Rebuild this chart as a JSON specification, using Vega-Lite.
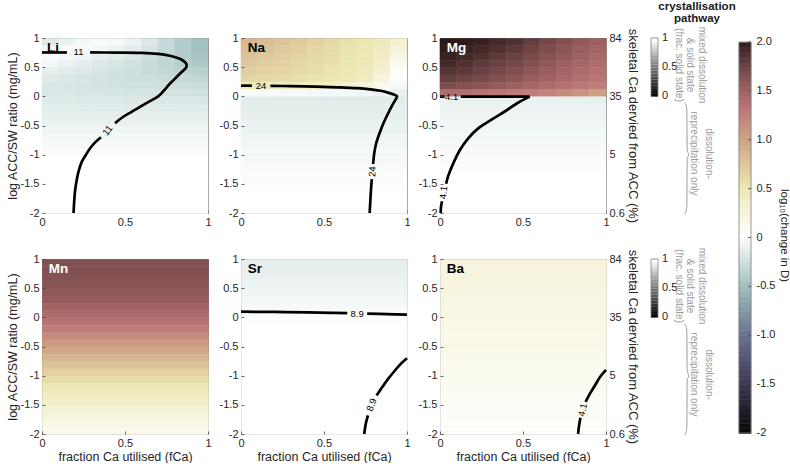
{
  "$schema": "https://vega.github.io/schema/vega-lite/v6.json",
  "background": "white",
  "padding": {"left": 5, "top": 0, "right": 0, "bottom": 0},
  "config": {
    "font": "Liberation Sans",
    "view": {"stroke": "#8a8a8a", "strokeWidth": 1},
    "axis": {"domain": false, "grid": false, "tickSize": -3, "tickColor": "#444444", "tickWidth": 0.8, "labelPadding": 6, "labelFontSize": 11, "labelColor": "#262626", "labelFlush": false, "labelOverlap": false, "labelBound": false, "titleFontSize": 12.5, "titleFontWeight": "normal", "titleColor": "#262626", "titlePadding": 2}
  },
  "resolve": {"scale": {"color": "independent", "stroke": "independent", "fill": "independent"}},
  "datasets": {
    "li": [
      {"x":0,"x2":0.1,"y":0.875,"v":-0.18},{"x":0.1,"x2":0.2,"y":0.875,"v":-0.12},{"x":0.2,"x2":0.3,"y":0.875,"v":-0.06},{"x":0.3,"x2":0.4,"y":0.875,"v":-0.03},{"x":0.4,"x2":0.5,"y":0.875,"v":-0.05},
      {"x":0.5,"x2":0.6,"y":0.875,"v":-0.1},{"x":0.6,"x2":0.7,"y":0.875,"v":-0.2},{"x":0.7,"x2":0.8,"y":0.875,"v":-0.32},{"x":0.8,"x2":0.9,"y":0.875,"v":-0.42},{"x":0.9,"x2":1,"y":0.875,"v":-0.5},
      {"x":0,"x2":0.1,"y":0.75,"v":-0.06},{"x":0.1,"x2":0.2,"y":0.75,"v":-0.03},{"x":0.2,"x2":0.3,"y":0.75,"v":-0.04},{"x":0.3,"x2":0.4,"y":0.75,"v":-0.07},{"x":0.4,"x2":0.5,"y":0.75,"v":-0.11},
      {"x":0.5,"x2":0.6,"y":0.75,"v":-0.16},{"x":0.6,"x2":0.7,"y":0.75,"v":-0.23},{"x":0.7,"x2":0.8,"y":0.75,"v":-0.32},{"x":0.8,"x2":0.9,"y":0.75,"v":-0.42},{"x":0.9,"x2":1,"y":0.75,"v":-0.5},
      {"x":0,"x2":0.1,"y":0.625,"v":-0.02},{"x":0.1,"x2":0.2,"y":0.625,"v":-0.05},{"x":0.2,"x2":0.3,"y":0.625,"v":-0.09},{"x":0.3,"x2":0.4,"y":0.625,"v":-0.13},{"x":0.4,"x2":0.5,"y":0.625,"v":-0.17},
      {"x":0.5,"x2":0.6,"y":0.625,"v":-0.21},{"x":0.6,"x2":0.7,"y":0.625,"v":-0.27},{"x":0.7,"x2":0.8,"y":0.625,"v":-0.34},{"x":0.8,"x2":0.9,"y":0.625,"v":-0.42},{"x":0.9,"x2":1,"y":0.625,"v":-0.48},
      {"x":0,"x2":0.1,"y":0.5,"v":-0.07},{"x":0.1,"x2":0.2,"y":0.5,"v":-0.11},{"x":0.2,"x2":0.3,"y":0.5,"v":-0.15},{"x":0.3,"x2":0.4,"y":0.5,"v":-0.19},{"x":0.4,"x2":0.5,"y":0.5,"v":-0.22},
      {"x":0.5,"x2":0.6,"y":0.5,"v":-0.26},{"x":0.6,"x2":0.7,"y":0.5,"v":-0.3},{"x":0.7,"x2":0.8,"y":0.5,"v":-0.35},{"x":0.8,"x2":0.9,"y":0.5,"v":-0.4},{"x":0.9,"x2":1,"y":0.5,"v":-0.45},
      {"x":0,"x2":0.1,"y":0.375,"v":-0.13},{"x":0.1,"x2":0.2,"y":0.375,"v":-0.16},{"x":0.2,"x2":0.3,"y":0.375,"v":-0.19},{"x":0.3,"x2":0.4,"y":0.375,"v":-0.22},{"x":0.4,"x2":0.5,"y":0.375,"v":-0.25},
      {"x":0.5,"x2":0.6,"y":0.375,"v":-0.27},{"x":0.6,"x2":0.7,"y":0.375,"v":-0.3},{"x":0.7,"x2":0.8,"y":0.375,"v":-0.33},{"x":0.8,"x2":0.9,"y":0.375,"v":-0.36},{"x":0.9,"x2":1,"y":0.375,"v":-0.39},
      {"x":0,"x2":0.1,"y":0.25,"v":-0.18},{"x":0.1,"x2":0.2,"y":0.25,"v":-0.2},{"x":0.2,"x2":0.3,"y":0.25,"v":-0.22},{"x":0.3,"x2":0.4,"y":0.25,"v":-0.24},{"x":0.4,"x2":0.5,"y":0.25,"v":-0.26},
      {"x":0.5,"x2":0.6,"y":0.25,"v":-0.27},{"x":0.6,"x2":0.7,"y":0.25,"v":-0.28},{"x":0.7,"x2":0.8,"y":0.25,"v":-0.3},{"x":0.8,"x2":0.9,"y":0.25,"v":-0.32},{"x":0.9,"x2":1,"y":0.25,"v":-0.34},
      {"x":0,"x2":0.1,"y":0.125,"v":-0.21},{"x":0.1,"x2":0.2,"y":0.125,"v":-0.22},{"x":0.2,"x2":0.3,"y":0.125,"v":-0.23},{"x":0.3,"x2":0.4,"y":0.125,"v":-0.24},{"x":0.4,"x2":0.5,"y":0.125,"v":-0.25},
      {"x":0.5,"x2":0.6,"y":0.125,"v":-0.25},{"x":0.6,"x2":0.7,"y":0.125,"v":-0.26},{"x":0.7,"x2":0.8,"y":0.125,"v":-0.27},{"x":0.8,"x2":0.9,"y":0.125,"v":-0.28},{"x":0.9,"x2":1,"y":0.125,"v":-0.29},
      {"x":0,"x2":0.1,"y":0,"v":-0.21},{"x":0.1,"x2":0.2,"y":0,"v":-0.21},{"x":0.2,"x2":0.3,"y":0,"v":-0.22},{"x":0.3,"x2":0.4,"y":0,"v":-0.22},{"x":0.4,"x2":0.5,"y":0,"v":-0.22},
      {"x":0.5,"x2":0.6,"y":0,"v":-0.23},{"x":0.6,"x2":0.7,"y":0,"v":-0.23},{"x":0.7,"x2":0.8,"y":0,"v":-0.24},{"x":0.8,"x2":0.9,"y":0,"v":-0.24},{"x":0.9,"x2":1,"y":0,"v":-0.25},
      {"x":0,"x2":0.1,"y":-0.125,"v":-0.18},{"x":0.1,"x2":0.2,"y":-0.125,"v":-0.18},{"x":0.2,"x2":0.3,"y":-0.125,"v":-0.19},{"x":0.3,"x2":0.4,"y":-0.125,"v":-0.19},{"x":0.4,"x2":0.5,"y":-0.125,"v":-0.19},
      {"x":0.5,"x2":0.6,"y":-0.125,"v":-0.2},{"x":0.6,"x2":0.7,"y":-0.125,"v":-0.2},{"x":0.7,"x2":0.8,"y":-0.125,"v":-0.2},{"x":0.8,"x2":0.9,"y":-0.125,"v":-0.2},{"x":0.9,"x2":1,"y":-0.125,"v":-0.21},
      {"x":0,"x2":0.1,"y":-0.25,"v":-0.15},{"x":0.1,"x2":0.2,"y":-0.25,"v":-0.15},{"x":0.2,"x2":0.3,"y":-0.25,"v":-0.16},{"x":0.3,"x2":0.4,"y":-0.25,"v":-0.16},{"x":0.4,"x2":0.5,"y":-0.25,"v":-0.16},
      {"x":0.5,"x2":0.6,"y":-0.25,"v":-0.17},{"x":0.6,"x2":0.7,"y":-0.25,"v":-0.17},{"x":0.7,"x2":0.8,"y":-0.25,"v":-0.17},{"x":0.8,"x2":0.9,"y":-0.25,"v":-0.17},{"x":0.9,"x2":1,"y":-0.25,"v":-0.17},
      {"x":0,"x2":1,"y":-0.375,"v":-0.14},{"x":0,"x2":1,"y":-0.5,"v":-0.12},{"x":0,"x2":1,"y":-0.625,"v":-0.09},{"x":0,"x2":1,"y":-0.75,"v":-0.07},
      {"x":0,"x2":1,"y":-0.875,"v":-0.05},{"x":0,"x2":1,"y":-1,"v":-0.03},{"x":0,"x2":1,"y":-1.125,"v":-0.01},{"x":0,"x2":1,"y":-1.25,"v":0.01},
      {"x":0,"x2":1,"y":-1.375,"v":0.01},{"x":0,"x2":1,"y":-1.5,"v":0},{"x":0,"x2":1,"y":-1.625,"v":0},{"x":0,"x2":1,"y":-1.75,"v":0},
      {"x":0,"x2":1,"y":-1.875,"v":0},{"x":0,"x2":1,"y":-2,"v":0}
    ],
    "na": [
      {"x":0,"x2":0.1,"y":0.875,"v":0.84},{"x":0.1,"x2":0.2,"y":0.875,"v":0.8},{"x":0.2,"x2":0.3,"y":0.875,"v":0.75},{"x":0.3,"x2":0.4,"y":0.875,"v":0.7},{"x":0.4,"x2":0.5,"y":0.875,"v":0.65},
      {"x":0.5,"x2":0.6,"y":0.875,"v":0.6},{"x":0.6,"x2":0.7,"y":0.875,"v":0.55},{"x":0.7,"x2":0.8,"y":0.875,"v":0.5},{"x":0.8,"x2":0.9,"y":0.875,"v":0.42},{"x":0.9,"x2":1,"y":0.875,"v":0.3},
      {"x":0,"x2":0.1,"y":0.75,"v":0.8},{"x":0.1,"x2":0.2,"y":0.75,"v":0.76},{"x":0.2,"x2":0.3,"y":0.75,"v":0.71},{"x":0.3,"x2":0.4,"y":0.75,"v":0.67},{"x":0.4,"x2":0.5,"y":0.75,"v":0.62},
      {"x":0.5,"x2":0.6,"y":0.75,"v":0.58},{"x":0.6,"x2":0.7,"y":0.75,"v":0.53},{"x":0.7,"x2":0.8,"y":0.75,"v":0.48},{"x":0.8,"x2":0.9,"y":0.75,"v":0.4},{"x":0.9,"x2":1,"y":0.75,"v":0.26},
      {"x":0,"x2":0.1,"y":0.625,"v":0.76},{"x":0.1,"x2":0.2,"y":0.625,"v":0.72},{"x":0.2,"x2":0.3,"y":0.625,"v":0.68},{"x":0.3,"x2":0.4,"y":0.625,"v":0.64},{"x":0.4,"x2":0.5,"y":0.625,"v":0.6},
      {"x":0.5,"x2":0.6,"y":0.625,"v":0.56},{"x":0.6,"x2":0.7,"y":0.625,"v":0.51},{"x":0.7,"x2":0.8,"y":0.625,"v":0.46},{"x":0.8,"x2":0.9,"y":0.625,"v":0.37},{"x":0.9,"x2":1,"y":0.625,"v":0.2},
      {"x":0,"x2":0.1,"y":0.5,"v":0.72},{"x":0.1,"x2":0.2,"y":0.5,"v":0.68},{"x":0.2,"x2":0.3,"y":0.5,"v":0.65},{"x":0.3,"x2":0.4,"y":0.5,"v":0.61},{"x":0.4,"x2":0.5,"y":0.5,"v":0.58},
      {"x":0.5,"x2":0.6,"y":0.5,"v":0.54},{"x":0.6,"x2":0.7,"y":0.5,"v":0.5},{"x":0.7,"x2":0.8,"y":0.5,"v":0.45},{"x":0.8,"x2":0.9,"y":0.5,"v":0.34},{"x":0.9,"x2":1,"y":0.5,"v":0.12},
      {"x":0,"x2":0.1,"y":0.375,"v":0.68},{"x":0.1,"x2":0.2,"y":0.375,"v":0.65},{"x":0.2,"x2":0.3,"y":0.375,"v":0.62},{"x":0.3,"x2":0.4,"y":0.375,"v":0.59},{"x":0.4,"x2":0.5,"y":0.375,"v":0.56},
      {"x":0.5,"x2":0.6,"y":0.375,"v":0.52},{"x":0.6,"x2":0.7,"y":0.375,"v":0.48},{"x":0.7,"x2":0.8,"y":0.375,"v":0.43},{"x":0.8,"x2":0.9,"y":0.375,"v":0.3},{"x":0.9,"x2":1,"y":0.375,"v":0.06},
      {"x":0,"x2":0.1,"y":0.25,"v":0.62},{"x":0.1,"x2":0.2,"y":0.25,"v":0.6},{"x":0.2,"x2":0.3,"y":0.25,"v":0.57},{"x":0.3,"x2":0.4,"y":0.25,"v":0.55},{"x":0.4,"x2":0.5,"y":0.25,"v":0.52},
      {"x":0.5,"x2":0.6,"y":0.25,"v":0.49},{"x":0.6,"x2":0.7,"y":0.25,"v":0.45},{"x":0.7,"x2":0.8,"y":0.25,"v":0.4},{"x":0.8,"x2":0.9,"y":0.25,"v":0.24},{"x":0.9,"x2":1,"y":0.25,"v":0.02},
      {"x":0,"x2":0.1,"y":0.125,"v":0.45},{"x":0.1,"x2":0.2,"y":0.125,"v":0.43},{"x":0.2,"x2":0.3,"y":0.125,"v":0.42},{"x":0.3,"x2":0.4,"y":0.125,"v":0.4},{"x":0.4,"x2":0.5,"y":0.125,"v":0.38},
      {"x":0.5,"x2":0.6,"y":0.125,"v":0.36},{"x":0.6,"x2":0.7,"y":0.125,"v":0.33},{"x":0.7,"x2":0.8,"y":0.125,"v":0.28},{"x":0.8,"x2":0.9,"y":0.125,"v":0.12},{"x":0.9,"x2":1,"y":0.125,"v":-0.05},
      {"x":0,"x2":0.1,"y":0,"v":-0.04},{"x":0.1,"x2":0.2,"y":0,"v":-0.04},{"x":0.2,"x2":0.3,"y":0,"v":-0.05},{"x":0.3,"x2":0.4,"y":0,"v":-0.05},{"x":0.4,"x2":0.5,"y":0,"v":-0.06},
      {"x":0.5,"x2":0.6,"y":0,"v":-0.06},{"x":0.6,"x2":0.7,"y":0,"v":-0.07},{"x":0.7,"x2":0.8,"y":0,"v":-0.08},{"x":0.8,"x2":0.9,"y":0,"v":-0.1},{"x":0.9,"x2":1,"y":0,"v":-0.12},
      {"x":0,"x2":1,"y":-0.125,"v":-0.16},{"x":0,"x2":1,"y":-0.25,"v":-0.15},{"x":0,"x2":1,"y":-0.375,"v":-0.14},{"x":0,"x2":1,"y":-0.5,"v":-0.12},
      {"x":0,"x2":1,"y":-0.625,"v":-0.11},{"x":0,"x2":1,"y":-0.75,"v":-0.09},{"x":0,"x2":1,"y":-0.875,"v":-0.08},{"x":0,"x2":1,"y":-1,"v":-0.06},
      {"x":0,"x2":1,"y":-1.125,"v":-0.05},{"x":0,"x2":1,"y":-1.25,"v":-0.04},{"x":0,"x2":1,"y":-1.375,"v":-0.03},{"x":0,"x2":1,"y":-1.5,"v":-0.02},
      {"x":0,"x2":1,"y":-1.625,"v":-0.01},{"x":0,"x2":1,"y":-1.75,"v":0},{"x":0,"x2":1,"y":-1.875,"v":0},{"x":0,"x2":1,"y":-2,"v":0}
    ],
    "mg": [
      {"x":0,"x2":0.1,"y":0.875,"v":2.0},{"x":0.1,"x2":0.2,"y":0.875,"v":1.98},{"x":0.2,"x2":0.3,"y":0.875,"v":1.95},{"x":0.3,"x2":0.4,"y":0.875,"v":1.9},{"x":0.4,"x2":0.5,"y":0.875,"v":1.85},
      {"x":0.5,"x2":0.6,"y":0.875,"v":1.78},{"x":0.6,"x2":0.7,"y":0.875,"v":1.7},{"x":0.7,"x2":0.8,"y":0.875,"v":1.63},{"x":0.8,"x2":0.9,"y":0.875,"v":1.56},{"x":0.9,"x2":1,"y":0.875,"v":1.5},
      {"x":0,"x2":0.1,"y":0.75,"v":1.98},{"x":0.1,"x2":0.2,"y":0.75,"v":1.94},{"x":0.2,"x2":0.3,"y":0.75,"v":1.9},{"x":0.3,"x2":0.4,"y":0.75,"v":1.85},{"x":0.4,"x2":0.5,"y":0.75,"v":1.8},
      {"x":0.5,"x2":0.6,"y":0.75,"v":1.73},{"x":0.6,"x2":0.7,"y":0.75,"v":1.66},{"x":0.7,"x2":0.8,"y":0.75,"v":1.59},{"x":0.8,"x2":0.9,"y":0.75,"v":1.52},{"x":0.9,"x2":1,"y":0.75,"v":1.46},
      {"x":0,"x2":0.1,"y":0.625,"v":1.94},{"x":0.1,"x2":0.2,"y":0.625,"v":1.9},{"x":0.2,"x2":0.3,"y":0.625,"v":1.85},{"x":0.3,"x2":0.4,"y":0.625,"v":1.8},{"x":0.4,"x2":0.5,"y":0.625,"v":1.75},
      {"x":0.5,"x2":0.6,"y":0.625,"v":1.68},{"x":0.6,"x2":0.7,"y":0.625,"v":1.61},{"x":0.7,"x2":0.8,"y":0.625,"v":1.55},{"x":0.8,"x2":0.9,"y":0.625,"v":1.48},{"x":0.9,"x2":1,"y":0.625,"v":1.42},
      {"x":0,"x2":0.1,"y":0.5,"v":1.9},{"x":0.1,"x2":0.2,"y":0.5,"v":1.85},{"x":0.2,"x2":0.3,"y":0.5,"v":1.8},{"x":0.3,"x2":0.4,"y":0.5,"v":1.75},{"x":0.4,"x2":0.5,"y":0.5,"v":1.7},
      {"x":0.5,"x2":0.6,"y":0.5,"v":1.63},{"x":0.6,"x2":0.7,"y":0.5,"v":1.57},{"x":0.7,"x2":0.8,"y":0.5,"v":1.5},{"x":0.8,"x2":0.9,"y":0.5,"v":1.44},{"x":0.9,"x2":1,"y":0.5,"v":1.38},
      {"x":0,"x2":0.1,"y":0.375,"v":1.84},{"x":0.1,"x2":0.2,"y":0.375,"v":1.8},{"x":0.2,"x2":0.3,"y":0.375,"v":1.75},{"x":0.3,"x2":0.4,"y":0.375,"v":1.7},{"x":0.4,"x2":0.5,"y":0.375,"v":1.64},
      {"x":0.5,"x2":0.6,"y":0.375,"v":1.58},{"x":0.6,"x2":0.7,"y":0.375,"v":1.52},{"x":0.7,"x2":0.8,"y":0.375,"v":1.46},{"x":0.8,"x2":0.9,"y":0.375,"v":1.4},{"x":0.9,"x2":1,"y":0.375,"v":1.34},
      {"x":0,"x2":0.1,"y":0.25,"v":1.77},{"x":0.1,"x2":0.2,"y":0.25,"v":1.73},{"x":0.2,"x2":0.3,"y":0.25,"v":1.68},{"x":0.3,"x2":0.4,"y":0.25,"v":1.63},{"x":0.4,"x2":0.5,"y":0.25,"v":1.58},
      {"x":0.5,"x2":0.6,"y":0.25,"v":1.52},{"x":0.6,"x2":0.7,"y":0.25,"v":1.47},{"x":0.7,"x2":0.8,"y":0.25,"v":1.41},{"x":0.8,"x2":0.9,"y":0.25,"v":1.35},{"x":0.9,"x2":1,"y":0.25,"v":1.3},
      {"x":0,"x2":0.1,"y":0.125,"v":1.65},{"x":0.1,"x2":0.2,"y":0.125,"v":1.62},{"x":0.2,"x2":0.3,"y":0.125,"v":1.58},{"x":0.3,"x2":0.4,"y":0.125,"v":1.54},{"x":0.4,"x2":0.5,"y":0.125,"v":1.49},
      {"x":0.5,"x2":0.6,"y":0.125,"v":1.44},{"x":0.6,"x2":0.7,"y":0.125,"v":1.39},{"x":0.7,"x2":0.8,"y":0.125,"v":1.34},{"x":0.8,"x2":0.9,"y":0.125,"v":1.29},{"x":0.9,"x2":1,"y":0.125,"v":1.24},
      {"x":0,"x2":0.1,"y":0,"v":1.38},{"x":0.1,"x2":0.2,"y":0,"v":1.36},{"x":0.2,"x2":0.3,"y":0,"v":1.33},{"x":0.3,"x2":0.4,"y":0,"v":1.3},{"x":0.4,"x2":0.5,"y":0,"v":1.27},
      {"x":0.5,"x2":0.6,"y":0,"v":1.24},{"x":0.6,"x2":0.7,"y":0,"v":1.2},{"x":0.7,"x2":0.8,"y":0,"v":1.15},{"x":0.8,"x2":0.9,"y":0,"v":1.08},{"x":0.9,"x2":1,"y":0,"v":1.0},
      {"x":0,"x2":1,"y":-0.125,"v":-0.12},{"x":0,"x2":1,"y":-0.25,"v":-0.1},{"x":0,"x2":1,"y":-0.375,"v":-0.09},{"x":0,"x2":1,"y":-0.5,"v":-0.08},
      {"x":0,"x2":1,"y":-0.625,"v":-0.07},{"x":0,"x2":1,"y":-0.75,"v":-0.06},{"x":0,"x2":1,"y":-0.875,"v":-0.05},{"x":0,"x2":1,"y":-1,"v":-0.04},
      {"x":0,"x2":1,"y":-1.125,"v":-0.03},{"x":0,"x2":1,"y":-1.25,"v":-0.02},{"x":0,"x2":1,"y":-1.375,"v":-0.01},{"x":0,"x2":1,"y":-1.5,"v":0},
      {"x":0,"x2":1,"y":-1.625,"v":0},{"x":0,"x2":1,"y":-1.75,"v":0},{"x":0,"x2":1,"y":-1.875,"v":0},{"x":0,"x2":1,"y":-2,"v":0}
    ],
    "mn": [
      {"x":0,"y":0.875,"v":1.63},{"x":0,"y":0.75,"v":1.63},{"x":0,"y":0.625,"v":1.62},{"x":0,"y":0.5,"v":1.6},{"x":0,"y":0.375,"v":1.57},{"x":0,"y":0.25,"v":1.53},
      {"x":0,"y":0.125,"v":1.47},{"x":0,"y":0,"v":1.4},{"x":0,"y":-0.125,"v":1.33},{"x":0,"y":-0.25,"v":1.25},{"x":0,"y":-0.375,"v":1.15},{"x":0,"y":-0.5,"v":1.05},
      {"x":0,"y":-0.625,"v":0.95},{"x":0,"y":-0.75,"v":0.85},{"x":0,"y":-0.875,"v":0.75},{"x":0,"y":-1,"v":0.65},{"x":0,"y":-1.125,"v":0.56},{"x":0,"y":-1.25,"v":0.48},
      {"x":0,"y":-1.375,"v":0.41},{"x":0,"y":-1.5,"v":0.35},{"x":0,"y":-1.625,"v":0.29},{"x":0,"y":-1.75,"v":0.24},{"x":0,"y":-1.875,"v":0.19},{"x":0,"y":-2,"v":0.14}
    ],
    "sr": [
      {"x":0,"y":0.875,"v":-0.14},{"x":0,"y":0.75,"v":-0.13},{"x":0,"y":0.625,"v":-0.12},{"x":0,"y":0.5,"v":-0.1},{"x":0,"y":0.375,"v":-0.09},{"x":0,"y":0.25,"v":-0.07},
      {"x":0,"y":0.125,"v":-0.05},{"x":0,"y":0,"v":-0.02},{"x":0,"y":-0.125,"v":-0.01},{"x":0,"y":-0.25,"v":0},{"x":0,"y":-0.375,"v":0},{"x":0,"y":-0.5,"v":0},
      {"x":0,"y":-0.625,"v":0},{"x":0,"y":-0.75,"v":0},{"x":0,"y":-0.875,"v":0},{"x":0,"y":-1,"v":0},{"x":0,"y":-1.125,"v":0},{"x":0,"y":-1.25,"v":0},
      {"x":0,"y":-1.375,"v":0},{"x":0,"y":-1.5,"v":0},{"x":0,"y":-1.625,"v":0},{"x":0,"y":-1.75,"v":0},{"x":0,"y":-1.875,"v":0},{"x":0,"y":-2,"v":0}
    ],
    "ba": [
      {"x":0,"y":0.875,"v":0.26},{"x":0,"y":0.75,"v":0.25},{"x":0,"y":0.625,"v":0.24},{"x":0,"y":0.5,"v":0.23},{"x":0,"y":0.375,"v":0.22},{"x":0,"y":0.25,"v":0.21},
      {"x":0,"y":0.125,"v":0.2},{"x":0,"y":0,"v":0.19},{"x":0,"y":-0.125,"v":0.18},{"x":0,"y":-0.25,"v":0.17},{"x":0,"y":-0.375,"v":0.16},{"x":0,"y":-0.5,"v":0.15},
      {"x":0,"y":-0.625,"v":0.14},{"x":0,"y":-0.75,"v":0.13},{"x":0,"y":-0.875,"v":0.12},{"x":0,"y":-1,"v":0.11},{"x":0,"y":-1.125,"v":0.1},{"x":0,"y":-1.25,"v":0.09},
      {"x":0,"y":-1.375,"v":0.08},{"x":0,"y":-1.5,"v":0.07},{"x":0,"y":-1.625,"v":0.06},{"x":0,"y":-1.75,"v":0.05},{"x":0,"y":-1.875,"v":0.04},{"x":0,"y":-2,"v":0.03}
    ],
    "li_c": [
      {"s":1,"x":0,"y":0.752},{"s":1,"x":0.15,"y":0.752},
      {"s":2,"x":0.29,"y":0.752},{"s":2,"x":0.45,"y":0.75},{"s":2,"x":0.6,"y":0.745},{"s":2,"x":0.7,"y":0.727},{"s":2,"x":0.77,"y":0.695},{"s":2,"x":0.83,"y":0.645},
      {"s":2,"x":0.862,"y":0.585},{"s":2,"x":0.872,"y":0.53},{"s":2,"x":0.862,"y":0.47},{"s":2,"x":0.835,"y":0.4},{"s":2,"x":0.8,"y":0.3},{"s":2,"x":0.765,"y":0.2},
      {"s":2,"x":0.735,"y":0.1},{"s":2,"x":0.7,"y":0.0},{"s":2,"x":0.645,"y":-0.09},{"s":2,"x":0.59,"y":-0.18},{"s":2,"x":0.54,"y":-0.265},{"s":2,"x":0.49,"y":-0.35},{"s":2,"x":0.44,"y":-0.46},
      {"s":3,"x":0.355,"y":-0.7},{"s":3,"x":0.32,"y":-0.79},{"s":3,"x":0.29,"y":-0.89},{"s":3,"x":0.265,"y":-1.0},{"s":3,"x":0.24,"y":-1.12},{"s":3,"x":0.222,"y":-1.27},
      {"s":3,"x":0.21,"y":-1.42},{"s":3,"x":0.2,"y":-1.6},{"s":3,"x":0.194,"y":-1.8},{"s":3,"x":0.19,"y":-2}
    ],
    "na_c": [
      {"s":1,"x":0,"y":0.183},{"s":1,"x":0.066,"y":0.183},
      {"s":2,"x":0.177,"y":0.18},{"s":2,"x":0.3,"y":0.175},{"s":2,"x":0.45,"y":0.167},{"s":2,"x":0.58,"y":0.155},{"s":2,"x":0.7,"y":0.14},{"s":2,"x":0.78,"y":0.12},
      {"s":2,"x":0.84,"y":0.095},{"s":2,"x":0.89,"y":0.06},{"s":2,"x":0.92,"y":0.03},{"s":2,"x":0.94,"y":0.0},{"s":2,"x":0.93,"y":-0.06},{"s":2,"x":0.91,"y":-0.16},
      {"s":2,"x":0.885,"y":-0.3},{"s":2,"x":0.86,"y":-0.45},{"s":2,"x":0.835,"y":-0.63},{"s":2,"x":0.815,"y":-0.8},{"s":2,"x":0.803,"y":-0.97},{"s":2,"x":0.796,"y":-1.16},
      {"s":3,"x":0.788,"y":-1.42},{"s":3,"x":0.783,"y":-1.6},{"s":3,"x":0.779,"y":-1.8},{"s":3,"x":0.775,"y":-2}
    ],
    "mg_c": [
      {"s":1,"x":0,"y":-0.005},{"s":1,"x":0.028,"y":-0.005},
      {"s":2,"x":0.125,"y":-0.005},{"s":2,"x":0.54,"y":-0.005},
      {"s":3,"x":0.54,"y":-0.005},{"s":3,"x":0.47,"y":-0.11},{"s":3,"x":0.39,"y":-0.26},{"s":3,"x":0.31,"y":-0.4},{"s":3,"x":0.23,"y":-0.55},{"s":3,"x":0.17,"y":-0.72},
      {"s":3,"x":0.12,"y":-0.92},{"s":3,"x":0.08,"y":-1.15},{"s":3,"x":0.05,"y":-1.36},{"s":3,"x":0.037,"y":-1.5},
      {"s":4,"x":0.012,"y":-1.8},{"s":4,"x":0.006,"y":-1.9},{"s":4,"x":0.004,"y":-2}
    ],
    "sr_c": [
      {"s":1,"x":0,"y":0.097},{"s":1,"x":0.2,"y":0.092},{"s":1,"x":0.4,"y":0.084},{"s":1,"x":0.55,"y":0.077},{"s":1,"x":0.64,"y":0.072},
      {"s":2,"x":0.76,"y":0.064},{"s":2,"x":0.88,"y":0.056},{"s":2,"x":1,"y":0.047},
      {"s":3,"x":1,"y":-0.7},{"s":3,"x":0.965,"y":-0.79},{"s":3,"x":0.925,"y":-0.92},{"s":3,"x":0.885,"y":-1.06},{"s":3,"x":0.85,"y":-1.2},{"s":3,"x":0.817,"y":-1.34},
      {"s":4,"x":0.765,"y":-1.68},{"s":4,"x":0.752,"y":-1.82},{"s":4,"x":0.742,"y":-2}
    ],
    "ba_c": [
      {"s":1,"x":1,"y":-0.9},{"s":1,"x":0.965,"y":-1.02},{"s":1,"x":0.935,"y":-1.16},{"s":1,"x":0.905,"y":-1.3},{"s":1,"x":0.877,"y":-1.45},
      {"s":2,"x":0.846,"y":-1.72},{"s":2,"x":0.838,"y":-1.85},{"s":2,"x":0.832,"y":-2}
    ],
    "gray": [
      {"g":0},{"g":0.05},{"g":0.1},{"g":0.15},{"g":0.2},{"g":0.25},{"g":0.3},{"g":0.35},{"g":0.4},{"g":0.45},
      {"g":0.5},{"g":0.55},{"g":0.6},{"g":0.65},{"g":0.7},{"g":0.75},{"g":0.8},{"g":0.85},{"g":0.9},{"g":0.95}
    ],
    "brace": [
      {"x":78.5,"y":-0.11},{"x":80.5,"y":-0.16},{"x":81,"y":-0.25},{"x":81,"y":-0.9},{"x":81.5,"y":-0.96},{"x":83.5,"y":-1.0},
      {"x":81.5,"y":-1.04},{"x":81,"y":-1.1},{"x":81,"y":-1.88},{"x":80.5,"y":-1.97},{"x":78.5,"y":-2.02}
    ],
    "notes": [
      {"x":95.5,"y":0.537,"t":"mixed dissolution\n& solid state\n(frac. solid state)","k":"a"},
      {"x":102.5,"y":-0.98,"t":"dissolution-\nreprecipitation only","k":"b"}
    ],
    "graylab": [
      {"x":56,"y":1,"t":"1"},{"x":56,"y":0.5,"t":"0.5"},{"x":56,"y":0,"t":"0"}
    ],
    "cblab": [
      {"v":2,"t":"2.0"},{"v":1.5,"t":"1.5"},{"v":1,"t":"1.0"},{"v":0.5,"t":"0.5"},{"v":0,"t":"0"},
      {"v":-0.5,"t":"-0.5"},{"v":-1,"t":"-1.0"},{"v":-1.5,"t":"-1.5"},{"v":-2,"t":"-2"}
    ],
    "cb": [
      {"v":-2},{"v":-1.95},{"v":-1.9},{"v":-1.85},{"v":-1.8},{"v":-1.75},{"v":-1.7},{"v":-1.65},{"v":-1.6},{"v":-1.55},
      {"v":-1.5},{"v":-1.45},{"v":-1.4},{"v":-1.35},{"v":-1.3},{"v":-1.25},{"v":-1.2},{"v":-1.15},{"v":-1.1},{"v":-1.05},
      {"v":-1},{"v":-0.95},{"v":-0.9},{"v":-0.85},{"v":-0.8},{"v":-0.75},{"v":-0.7},{"v":-0.65},{"v":-0.6},{"v":-0.55},
      {"v":-0.5},{"v":-0.45},{"v":-0.4},{"v":-0.35},{"v":-0.3},{"v":-0.25},{"v":-0.2},{"v":-0.15},{"v":-0.1},{"v":-0.05},
      {"v":0},{"v":0.05},{"v":0.1},{"v":0.15},{"v":0.2},{"v":0.25},{"v":0.3},{"v":0.35},{"v":0.4},{"v":0.45},
      {"v":0.5},{"v":0.55},{"v":0.6},{"v":0.65},{"v":0.7},{"v":0.75},{"v":0.8},{"v":0.85},{"v":0.9},{"v":0.95},
      {"v":1},{"v":1.05},{"v":1.1},{"v":1.15},{"v":1.2},{"v":1.25},{"v":1.3},{"v":1.35},{"v":1.4},{"v":1.45},
      {"v":1.5},{"v":1.55},{"v":1.6},{"v":1.65},{"v":1.7},{"v":1.75},{"v":1.8},{"v":1.85},{"v":1.9},{"v":1.95}
    ]
  },
  "columns": 4,
  "bounds": "flush",
  "spacing": {"row": 46, "column": 33},
  "concat": [
    {
      "width": 166, "height": 175,
      "layer": [
        {"data": {"name": "li"}, "mark": {"type": "rect", "strokeWidth": 0.6},
         "encoding": {
           "x": {"field": "x", "type": "quantitative", "scale": {"domain": [0, 1], "nice": false}, "axis": {"values": [0, 0.5, 1], "title": null, "labelExpr": "toString(datum.value)"}},
           "x2": {"field": "x2"},
           "y": {"field": "y", "type": "quantitative", "bin": {"binned": true, "step": 0.125}, "scale": {"domain": [-2, 1], "nice": false}, "axis": {"values": [-2, -1.5, -1, -0.5, 0, 0.5, 1], "title": "log ACC/SW ratio (mg/mL)", "titlePadding": 1, "labelExpr": "toString(datum.value)"}},
           "color": {"field": "v", "type": "quantitative", "legend": null, "scale": {"zero": false, "nice": false, "interpolate": "rgb", "domain": [-2,-1.75,-1.5,-1.25,-1,-0.75,-0.5,-0.25,0,0.25,0.5,0.75,1,1.25,1.5,1.75,2], "range": ["#0a0a0a","#22222e","#3c3c55","#545674","#6a7590","#849ca6","#a4c2c0","#d2e2e1","#ffffff","#f6f4dc","#ebe7b0","#dcc49a","#cca184","#c07c7a","#9c6060","#6a4242","#2a1818"]}},
           "stroke": {"field": "v", "type": "quantitative", "legend": null, "scale": {"zero": false, "nice": false, "interpolate": "rgb", "domain": [-2,-1.75,-1.5,-1.25,-1,-0.75,-0.5,-0.25,0,0.25,0.5,0.75,1,1.25,1.5,1.75,2], "range": ["#0a0a0a","#22222e","#3c3c55","#545674","#6a7590","#849ca6","#a4c2c0","#d2e2e1","#ffffff","#f6f4dc","#ebe7b0","#dcc49a","#cca184","#c07c7a","#9c6060","#6a4242","#2a1818"]}}
         }},
        {"data": {"name": "li_c"}, "mark": {"type": "line", "color": "black", "strokeWidth": 2.7, "interpolate": "cardinal"},
         "encoding": {"x": {"field": "x", "type": "quantitative"}, "y": {"field": "y", "type": "quantitative"}, "detail": {"field": "s"}, "order": {"value": null}}},
        {"data": {"values": [{"x": 0.22, "y": 0.752, "t": "11"}]}, "mark": {"type": "text", "fontSize": 9.5},
         "encoding": {"x": {"field": "x", "type": "quantitative"}, "y": {"field": "y", "type": "quantitative"}, "text": {"field": "t"}}},
        {"data": {"values": [{"x": 0.395, "y": -0.585, "t": "11"}]}, "mark": {"type": "text", "fontSize": 9.5, "angle": -52},
         "encoding": {"x": {"field": "x", "type": "quantitative"}, "y": {"field": "y", "type": "quantitative"}, "text": {"field": "t"}}},
        {"data": {"values": [{"x": 0.03, "y": 0.835, "t": "Li"}]}, "mark": {"type": "text", "fontSize": 13.5, "fontWeight": "bold", "align": "left", "color": "black"},
         "encoding": {"x": {"field": "x", "type": "quantitative"}, "y": {"field": "y", "type": "quantitative"}, "text": {"field": "t"}}}
      ]
    },
    {
      "width": 166, "height": 175,
      "layer": [
        {"data": {"name": "na"}, "mark": {"type": "rect", "strokeWidth": 0.6},
         "encoding": {
           "x": {"field": "x", "type": "quantitative", "scale": {"domain": [0, 1], "nice": false}, "axis": {"values": [0, 0.5, 1], "title": null, "labelExpr": "toString(datum.value)"}},
           "x2": {"field": "x2"},
           "y": {"field": "y", "type": "quantitative", "bin": {"binned": true, "step": 0.125}, "scale": {"domain": [-2, 1], "nice": false}, "axis": {"values": [-2, -1.5, -1, -0.5, 0, 0.5, 1], "title": null, "labelExpr": "toString(datum.value)"}},
           "color": {"field": "v", "type": "quantitative", "legend": null, "scale": {"zero": false, "nice": false, "interpolate": "rgb", "domain": [-2,-1.75,-1.5,-1.25,-1,-0.75,-0.5,-0.25,0,0.25,0.5,0.75,1,1.25,1.5,1.75,2], "range": ["#0a0a0a","#22222e","#3c3c55","#545674","#6a7590","#849ca6","#a4c2c0","#d2e2e1","#ffffff","#f6f4dc","#ebe7b0","#dcc49a","#cca184","#c07c7a","#9c6060","#6a4242","#2a1818"]}},
           "stroke": {"field": "v", "type": "quantitative", "legend": null, "scale": {"zero": false, "nice": false, "interpolate": "rgb", "domain": [-2,-1.75,-1.5,-1.25,-1,-0.75,-0.5,-0.25,0,0.25,0.5,0.75,1,1.25,1.5,1.75,2], "range": ["#0a0a0a","#22222e","#3c3c55","#545674","#6a7590","#849ca6","#a4c2c0","#d2e2e1","#ffffff","#f6f4dc","#ebe7b0","#dcc49a","#cca184","#c07c7a","#9c6060","#6a4242","#2a1818"]}}
         }},
        {"data": {"name": "na_c"}, "mark": {"type": "line", "color": "black", "strokeWidth": 2.7, "interpolate": "cardinal"},
         "encoding": {"x": {"field": "x", "type": "quantitative"}, "y": {"field": "y", "type": "quantitative"}, "detail": {"field": "s"}, "order": {"value": null}}},
        {"data": {"values": [{"x": 0.12, "y": 0.183, "t": "24"}]}, "mark": {"type": "text", "fontSize": 9.5},
         "encoding": {"x": {"field": "x", "type": "quantitative"}, "y": {"field": "y", "type": "quantitative"}, "text": {"field": "t"}}},
        {"data": {"values": [{"x": 0.792, "y": -1.29, "t": "24"}]}, "mark": {"type": "text", "fontSize": 9.5, "angle": -88},
         "encoding": {"x": {"field": "x", "type": "quantitative"}, "y": {"field": "y", "type": "quantitative"}, "text": {"field": "t"}}},
        {"data": {"values": [{"x": 0.04, "y": 0.835, "t": "Na"}]}, "mark": {"type": "text", "fontSize": 13.5, "fontWeight": "bold", "align": "left", "color": "black"},
         "encoding": {"x": {"field": "x", "type": "quantitative"}, "y": {"field": "y", "type": "quantitative"}, "text": {"field": "t"}}}
      ]
    },
    {
      "width": 166, "height": 175,
      "resolve": {"scale": {"y": "independent"}},
      "layer": [
        {"data": {"name": "mg"}, "mark": {"type": "rect", "strokeWidth": 0.6},
         "encoding": {
           "x": {"field": "x", "type": "quantitative", "scale": {"domain": [0, 1], "nice": false}, "axis": {"values": [0, 0.5, 1], "title": null, "labelExpr": "toString(datum.value)"}},
           "x2": {"field": "x2"},
           "y": {"field": "y", "type": "quantitative", "bin": {"binned": true, "step": 0.125}, "scale": {"domain": [-2, 1], "nice": false}, "axis": {"values": [-2, -1.5, -1, -0.5, 0, 0.5, 1], "title": null, "labelExpr": "toString(datum.value)"}},
           "color": {"field": "v", "type": "quantitative", "legend": null, "scale": {"zero": false, "nice": false, "interpolate": "rgb", "domain": [-2,-1.75,-1.5,-1.25,-1,-0.75,-0.5,-0.25,0,0.25,0.5,0.75,1,1.25,1.5,1.75,2], "range": ["#0a0a0a","#22222e","#3c3c55","#545674","#6a7590","#849ca6","#a4c2c0","#d2e2e1","#ffffff","#f6f4dc","#ebe7b0","#dcc49a","#cca184","#c07c7a","#9c6060","#6a4242","#2a1818"]}},
           "stroke": {"field": "v", "type": "quantitative", "legend": null, "scale": {"zero": false, "nice": false, "interpolate": "rgb", "domain": [-2,-1.75,-1.5,-1.25,-1,-0.75,-0.5,-0.25,0,0.25,0.5,0.75,1,1.25,1.5,1.75,2], "range": ["#0a0a0a","#22222e","#3c3c55","#545674","#6a7590","#849ca6","#a4c2c0","#d2e2e1","#ffffff","#f6f4dc","#ebe7b0","#dcc49a","#cca184","#c07c7a","#9c6060","#6a4242","#2a1818"]}}
         }},
        {"data": {"name": "mg_c"}, "mark": {"type": "line", "color": "black", "strokeWidth": 2.7, "interpolate": "cardinal"},
         "encoding": {"x": {"field": "x", "type": "quantitative"},
           "y": {"field": "y", "type": "quantitative", "scale": {"domain": [-2, 1], "nice": false},
                 "axis": {"orient": "right", "values": [1, 0, -1, -2], "labelExpr": "datum.value == 1 ? '84' : datum.value == 0 ? '35' : datum.value == -1 ? '5' : '0.6'", "title": "skeletal Ca dervied from ACC (%)", "titleFontSize": 13, "titlePadding": 1}},
           "detail": {"field": "s"}, "order": {"value": null}}},
        {"data": {"values": [{"x": 0.07, "y": -0.005, "t": "4.1"}]}, "mark": {"type": "text", "fontSize": 9.5},
         "encoding": {"x": {"field": "x", "type": "quantitative"}, "y": {"field": "y", "type": "quantitative", "scale": {"domain": [-2, 1], "nice": false}, "axis": null}, "text": {"field": "t"}}},
        {"data": {"values": [{"x": 0.022, "y": -1.65, "t": "4.1"}]}, "mark": {"type": "text", "fontSize": 9.5, "angle": -84},
         "encoding": {"x": {"field": "x", "type": "quantitative"}, "y": {"field": "y", "type": "quantitative", "scale": {"domain": [-2, 1], "nice": false}, "axis": null}, "text": {"field": "t"}}},
        {"data": {"values": [{"x": 0.04, "y": 0.835, "t": "Mg"}]}, "mark": {"type": "text", "fontSize": 13.5, "fontWeight": "bold", "align": "left", "color": "white"},
         "encoding": {"x": {"field": "x", "type": "quantitative"}, "y": {"field": "y", "type": "quantitative", "scale": {"domain": [-2, 1], "nice": false}, "axis": null}, "text": {"field": "t"}}}
      ]
    },
    {
      "width": 112, "height": 175,
      "view": {"stroke": null},
      "resolve": {"scale": {"y": "independent"}},
      "layer": [
        {"layer": [
          {"data": {"name": "gray"}, "mark": {"type": "rect", "binSpacing": 0},
           "encoding": {
             "x": {"datum": 45, "type": "quantitative", "scale": {"domain": [33, 145], "nice": false, "zero": false}, "axis": null},
             "x2": {"datum": 52},
             "y": {"field": "g", "type": "quantitative", "bin": {"binned": true, "step": 0.05}, "scale": {"domain": [-2, 1], "nice": false}, "axis": null},
             "fill": {"field": "g", "type": "quantitative", "scale": {"zero": false, "nice": false, "domain": [0, 0.95], "range": ["#000000", "#ffffff"]}, "legend": null}}},
          {"data": {"values": [{"lo": 0, "hi": 1}]}, "mark": {"type": "rect", "filled": false, "stroke": "#808080", "strokeWidth": 0.8},
           "encoding": {"x": {"datum": 45, "type": "quantitative", "axis": null}, "x2": {"datum": 52}, "y": {"field": "lo", "type": "quantitative", "axis": null}, "y2": {"field": "hi"}}},
          {"data": {"name": "graylab"}, "mark": {"type": "text", "fontSize": 11, "align": "left", "color": "#262626"},
           "encoding": {"x": {"field": "x", "type": "quantitative", "axis": null}, "y": {"field": "y", "type": "quantitative", "axis": null}, "text": {"field": "t"}}},
          {"data": {"name": "notes"}, "transform": [{"filter": "datum.k == 'a'"}], "mark": {"type": "text", "fontSize": 10, "angle": 90, "align": "center", "baseline": "middle", "lineBreak": "\n", "lineHeight": 11.5, "color": "#9a9a9a"},
           "encoding": {"x": {"field": "x", "type": "quantitative", "axis": null}, "y": {"field": "y", "type": "quantitative", "axis": null}, "text": {"field": "t"}}},
          {"data": {"name": "notes"}, "transform": [{"filter": "datum.k == 'b'"}], "mark": {"type": "text", "fontSize": 10, "angle": 90, "align": "center", "baseline": "middle", "lineBreak": "\n", "lineHeight": 15, "color": "#9a9a9a"},
           "encoding": {"x": {"field": "x", "type": "quantitative", "axis": null}, "y": {"field": "y", "type": "quantitative", "axis": null}, "text": {"field": "t"}}},
          {"data": {"name": "brace"}, "mark": {"type": "line", "color": "#9a9a9a", "strokeWidth": 1, "interpolate": "basis"},
           "encoding": {"x": {"field": "x", "type": "quantitative", "axis": null}, "y": {"field": "y", "type": "quantitative", "axis": null}, "order": {"value": null}}},
          {"data": {"values": [{"x": 91, "y": 1.54, "t": "crystallisation\npathway"}]}, "mark": {"type": "text", "fontSize": 11.5, "fontWeight": "bold", "align": "center", "baseline": "middle", "lineBreak": "\n", "lineHeight": 12, "color": "#1a1a1a"},
           "encoding": {"x": {"field": "x", "type": "quantitative", "axis": null}, "y": {"field": "y", "type": "quantitative", "axis": null}, "text": {"field": "t"}}}
        ]},
        {"layer": [
          {"data": {"name": "cb"}, "mark": {"type": "rect", "binSpacing": 0, "strokeWidth": 0.6},
           "encoding": {
             "x": {"datum": 133, "type": "quantitative", "axis": null},
             "x2": {"datum": 145},
             "y": {"field": "v", "type": "quantitative", "bin": {"binned": true, "step": 0.05}, "scale": {"domain": [0.25064, 2.040921], "nice": false, "zero": false}, "axis": null},
             "color": {"field": "v", "type": "quantitative", "legend": null, "scale": {"zero": false, "nice": false, "interpolate": "rgb", "domain": [-2,-1.75,-1.5,-1.25,-1,-0.75,-0.5,-0.25,0,0.25,0.5,0.75,1,1.25,1.5,1.75,2], "range": ["#0a0a0a","#22222e","#3c3c55","#545674","#6a7590","#849ca6","#a4c2c0","#d2e2e1","#ffffff","#f6f4dc","#ebe7b0","#dcc49a","#cca184","#c07c7a","#9c6060","#6a4242","#2a1818"]}},
             "stroke": {"field": "v", "type": "quantitative", "legend": null, "scale": {"zero": false, "nice": false, "interpolate": "rgb", "domain": [-2,-1.75,-1.5,-1.25,-1,-0.75,-0.5,-0.25,0,0.25,0.5,0.75,1,1.25,1.5,1.75,2], "range": ["#0a0a0a","#22222e","#3c3c55","#545674","#6a7590","#849ca6","#a4c2c0","#d2e2e1","#ffffff","#f6f4dc","#ebe7b0","#dcc49a","#cca184","#c07c7a","#9c6060","#6a4242","#2a1818"]}}
           }},
          {"data": {"values": [{"lo": -2, "hi": 2}]}, "mark": {"type": "rect", "filled": false, "stroke": "#808080", "strokeWidth": 0.8},
           "encoding": {"x": {"datum": 133, "type": "quantitative", "axis": null}, "x2": {"datum": 145}, "y": {"field": "lo", "type": "quantitative", "axis": null}, "y2": {"field": "hi"}}},
          {"data": {"name": "cblab"}, "mark": {"type": "rule", "color": "#444444", "strokeWidth": 0.8},
           "encoding": {"x": {"datum": 142, "type": "quantitative", "axis": null}, "x2": {"datum": 145}, "y": {"field": "v", "type": "quantitative", "axis": null}}},
          {"data": {"name": "cblab"}, "mark": {"type": "text", "fontSize": 11, "align": "left", "baseline": "middle", "color": "#262626"},
           "encoding": {"x": {"datum": 150.5, "type": "quantitative", "axis": null}, "y": {"field": "v", "type": "quantitative", "axis": null}, "text": {"field": "t"}}},
          {"data": {"values": [{"v": 0.02, "t": "log₁₀(change in D)"}]}, "mark": {"type": "text", "fontSize": 11.5, "angle": 90, "align": "center", "baseline": "middle", "color": "#262626"},
           "encoding": {"x": {"datum": 178, "type": "quantitative", "axis": null}, "y": {"field": "v", "type": "quantitative", "axis": null}, "text": {"field": "t"}}}
        ]}
      ]
    },
    {
      "width": 166, "height": 175,
      "layer": [
        {"data": {"name": "mn"}, "mark": {"type": "rect", "binSpacing": 0, "strokeWidth": 0.6},
         "encoding": {
           "x": {"field": "x", "type": "quantitative", "bin": {"binned": true, "step": 1}, "scale": {"domain": [0, 1], "nice": false}, "axis": {"values": [0, 0.5, 1], "title": "fraction Ca utilised (fCa)", "labelExpr": "toString(datum.value)"}},
           "y": {"field": "y", "type": "quantitative", "bin": {"binned": true, "step": 0.125}, "scale": {"domain": [-2, 1], "nice": false}, "axis": {"values": [-2, -1.5, -1, -0.5, 0, 0.5, 1], "title": "log ACC/SW ratio (mg/mL)", "titlePadding": 1, "labelExpr": "toString(datum.value)"}},
           "color": {"field": "v", "type": "quantitative", "legend": null, "scale": {"zero": false, "nice": false, "interpolate": "rgb", "domain": [-2,-1.75,-1.5,-1.25,-1,-0.75,-0.5,-0.25,0,0.25,0.5,0.75,1,1.25,1.5,1.75,2], "range": ["#0a0a0a","#22222e","#3c3c55","#545674","#6a7590","#849ca6","#a4c2c0","#d2e2e1","#ffffff","#f6f4dc","#ebe7b0","#dcc49a","#cca184","#c07c7a","#9c6060","#6a4242","#2a1818"]}},
           "stroke": {"field": "v", "type": "quantitative", "legend": null, "scale": {"zero": false, "nice": false, "interpolate": "rgb", "domain": [-2,-1.75,-1.5,-1.25,-1,-0.75,-0.5,-0.25,0,0.25,0.5,0.75,1,1.25,1.5,1.75,2], "range": ["#0a0a0a","#22222e","#3c3c55","#545674","#6a7590","#849ca6","#a4c2c0","#d2e2e1","#ffffff","#f6f4dc","#ebe7b0","#dcc49a","#cca184","#c07c7a","#9c6060","#6a4242","#2a1818"]}}
         }},
        {"data": {"values": [{"x": 0.04, "y": 0.835, "t": "Mn"}]}, "mark": {"type": "text", "fontSize": 13.5, "fontWeight": "bold", "align": "left", "color": "white"},
         "encoding": {"x": {"field": "x", "type": "quantitative"}, "y": {"field": "y", "type": "quantitative"}, "text": {"field": "t"}}}
      ]
    },
    {
      "width": 166, "height": 175,
      "layer": [
        {"data": {"name": "sr"}, "mark": {"type": "rect", "binSpacing": 0, "strokeWidth": 0.6},
         "encoding": {
           "x": {"field": "x", "type": "quantitative", "bin": {"binned": true, "step": 1}, "scale": {"domain": [0, 1], "nice": false}, "axis": {"values": [0, 0.5, 1], "title": "fraction Ca utilised (fCa)", "labelExpr": "toString(datum.value)"}},
           "y": {"field": "y", "type": "quantitative", "bin": {"binned": true, "step": 0.125}, "scale": {"domain": [-2, 1], "nice": false}, "axis": {"values": [-2, -1.5, -1, -0.5, 0, 0.5, 1], "title": null, "labelExpr": "toString(datum.value)"}},
           "color": {"field": "v", "type": "quantitative", "legend": null, "scale": {"zero": false, "nice": false, "interpolate": "rgb", "domain": [-2,-1.75,-1.5,-1.25,-1,-0.75,-0.5,-0.25,0,0.25,0.5,0.75,1,1.25,1.5,1.75,2], "range": ["#0a0a0a","#22222e","#3c3c55","#545674","#6a7590","#849ca6","#a4c2c0","#d2e2e1","#ffffff","#f6f4dc","#ebe7b0","#dcc49a","#cca184","#c07c7a","#9c6060","#6a4242","#2a1818"]}},
           "stroke": {"field": "v", "type": "quantitative", "legend": null, "scale": {"zero": false, "nice": false, "interpolate": "rgb", "domain": [-2,-1.75,-1.5,-1.25,-1,-0.75,-0.5,-0.25,0,0.25,0.5,0.75,1,1.25,1.5,1.75,2], "range": ["#0a0a0a","#22222e","#3c3c55","#545674","#6a7590","#849ca6","#a4c2c0","#d2e2e1","#ffffff","#f6f4dc","#ebe7b0","#dcc49a","#cca184","#c07c7a","#9c6060","#6a4242","#2a1818"]}}
         }},
        {"data": {"name": "sr_c"}, "mark": {"type": "line", "color": "black", "strokeWidth": 2.7, "interpolate": "cardinal"},
         "encoding": {"x": {"field": "x", "type": "quantitative"}, "y": {"field": "y", "type": "quantitative"}, "detail": {"field": "s"}, "order": {"value": null}}},
        {"data": {"values": [{"x": 0.7, "y": 0.065, "t": "8.9"}]}, "mark": {"type": "text", "fontSize": 9.5},
         "encoding": {"x": {"field": "x", "type": "quantitative"}, "y": {"field": "y", "type": "quantitative"}, "text": {"field": "t"}}},
        {"data": {"values": [{"x": 0.788, "y": -1.5, "t": "8.9"}]}, "mark": {"type": "text", "fontSize": 9.5, "angle": -70},
         "encoding": {"x": {"field": "x", "type": "quantitative"}, "y": {"field": "y", "type": "quantitative"}, "text": {"field": "t"}}},
        {"data": {"values": [{"x": 0.04, "y": 0.835, "t": "Sr"}]}, "mark": {"type": "text", "fontSize": 13.5, "fontWeight": "bold", "align": "left", "color": "black"},
         "encoding": {"x": {"field": "x", "type": "quantitative"}, "y": {"field": "y", "type": "quantitative"}, "text": {"field": "t"}}}
      ]
    },
    {
      "width": 166, "height": 175,
      "resolve": {"scale": {"y": "independent"}},
      "layer": [
        {"data": {"name": "ba"}, "mark": {"type": "rect", "binSpacing": 0, "strokeWidth": 0.6},
         "encoding": {
           "x": {"field": "x", "type": "quantitative", "bin": {"binned": true, "step": 1}, "scale": {"domain": [0, 1], "nice": false}, "axis": {"values": [0, 0.5, 1], "title": "fraction Ca utilised (fCa)", "labelExpr": "toString(datum.value)"}},
           "y": {"field": "y", "type": "quantitative", "bin": {"binned": true, "step": 0.125}, "scale": {"domain": [-2, 1], "nice": false}, "axis": {"values": [-2, -1.5, -1, -0.5, 0, 0.5, 1], "title": null, "labelExpr": "toString(datum.value)"}},
           "color": {"field": "v", "type": "quantitative", "legend": null, "scale": {"zero": false, "nice": false, "interpolate": "rgb", "domain": [-2,-1.75,-1.5,-1.25,-1,-0.75,-0.5,-0.25,0,0.25,0.5,0.75,1,1.25,1.5,1.75,2], "range": ["#0a0a0a","#22222e","#3c3c55","#545674","#6a7590","#849ca6","#a4c2c0","#d2e2e1","#ffffff","#f6f4dc","#ebe7b0","#dcc49a","#cca184","#c07c7a","#9c6060","#6a4242","#2a1818"]}},
           "stroke": {"field": "v", "type": "quantitative", "legend": null, "scale": {"zero": false, "nice": false, "interpolate": "rgb", "domain": [-2,-1.75,-1.5,-1.25,-1,-0.75,-0.5,-0.25,0,0.25,0.5,0.75,1,1.25,1.5,1.75,2], "range": ["#0a0a0a","#22222e","#3c3c55","#545674","#6a7590","#849ca6","#a4c2c0","#d2e2e1","#ffffff","#f6f4dc","#ebe7b0","#dcc49a","#cca184","#c07c7a","#9c6060","#6a4242","#2a1818"]}}
         }},
        {"data": {"name": "ba_c"}, "mark": {"type": "line", "color": "black", "strokeWidth": 2.7, "interpolate": "cardinal"},
         "encoding": {"x": {"field": "x", "type": "quantitative"},
           "y": {"field": "y", "type": "quantitative", "scale": {"domain": [-2, 1], "nice": false},
                 "axis": {"orient": "right", "values": [1, 0, -1, -2], "labelExpr": "datum.value == 1 ? '84' : datum.value == 0 ? '35' : datum.value == -1 ? '5' : '0.6'", "title": "skeletal Ca dervied from ACC (%)", "titleFontSize": 13, "titlePadding": 1}},
           "detail": {"field": "s"}, "order": {"value": null}}},
        {"data": {"values": [{"x": 0.86, "y": -1.585, "t": "4.1"}]}, "mark": {"type": "text", "fontSize": 9.5, "angle": -78},
         "encoding": {"x": {"field": "x", "type": "quantitative"}, "y": {"field": "y", "type": "quantitative", "scale": {"domain": [-2, 1], "nice": false}, "axis": null}, "text": {"field": "t"}}},
        {"data": {"values": [{"x": 0.04, "y": 0.835, "t": "Ba"}]}, "mark": {"type": "text", "fontSize": 13.5, "fontWeight": "bold", "align": "left", "color": "black"},
         "encoding": {"x": {"field": "x", "type": "quantitative"}, "y": {"field": "y", "type": "quantitative", "scale": {"domain": [-2, 1], "nice": false}, "axis": null}, "text": {"field": "t"}}}
      ]
    },
    {
      "width": 112, "height": 175,
      "view": {"stroke": null},
      "layer": [
        {"data": {"name": "gray"}, "mark": {"type": "rect", "binSpacing": 0},
         "encoding": {
           "x": {"datum": 45, "type": "quantitative", "scale": {"domain": [33, 145], "nice": false, "zero": false}, "axis": null},
           "x2": {"datum": 52},
           "y": {"field": "g", "type": "quantitative", "bin": {"binned": true, "step": 0.05}, "scale": {"domain": [-2, 1], "nice": false}, "axis": null},
           "fill": {"field": "g", "type": "quantitative", "scale": {"zero": false, "nice": false, "domain": [0, 0.95], "range": ["#000000", "#ffffff"]}, "legend": null}}},
        {"data": {"values": [{"lo": 0, "hi": 1}]}, "mark": {"type": "rect", "filled": false, "stroke": "#808080", "strokeWidth": 0.8},
         "encoding": {"x": {"datum": 45, "type": "quantitative", "axis": null}, "x2": {"datum": 52}, "y": {"field": "lo", "type": "quantitative", "axis": null}, "y2": {"field": "hi"}}},
        {"data": {"name": "graylab"}, "mark": {"type": "text", "fontSize": 11, "align": "left", "color": "#262626"},
         "encoding": {"x": {"field": "x", "type": "quantitative", "axis": null}, "y": {"field": "y", "type": "quantitative", "axis": null}, "text": {"field": "t"}}},
        {"data": {"name": "notes"}, "transform": [{"filter": "datum.k == 'a'"}], "mark": {"type": "text", "fontSize": 10, "angle": 90, "align": "center", "baseline": "middle", "lineBreak": "\n", "lineHeight": 11.5, "color": "#9a9a9a"},
         "encoding": {"x": {"field": "x", "type": "quantitative", "axis": null}, "y": {"field": "y", "type": "quantitative", "axis": null}, "text": {"field": "t"}}},
        {"data": {"name": "notes"}, "transform": [{"filter": "datum.k == 'b'"}], "mark": {"type": "text", "fontSize": 10, "angle": 90, "align": "center", "baseline": "middle", "lineBreak": "\n", "lineHeight": 15, "color": "#9a9a9a"},
         "encoding": {"x": {"field": "x", "type": "quantitative", "axis": null}, "y": {"field": "y", "type": "quantitative", "axis": null}, "text": {"field": "t"}}},
        {"data": {"name": "brace"}, "mark": {"type": "line", "color": "#9a9a9a", "strokeWidth": 1, "interpolate": "basis"},
         "encoding": {"x": {"field": "x", "type": "quantitative", "axis": null}, "y": {"field": "y", "type": "quantitative", "axis": null}, "order": {"value": null}}}
      ]
    }
  ]
}
